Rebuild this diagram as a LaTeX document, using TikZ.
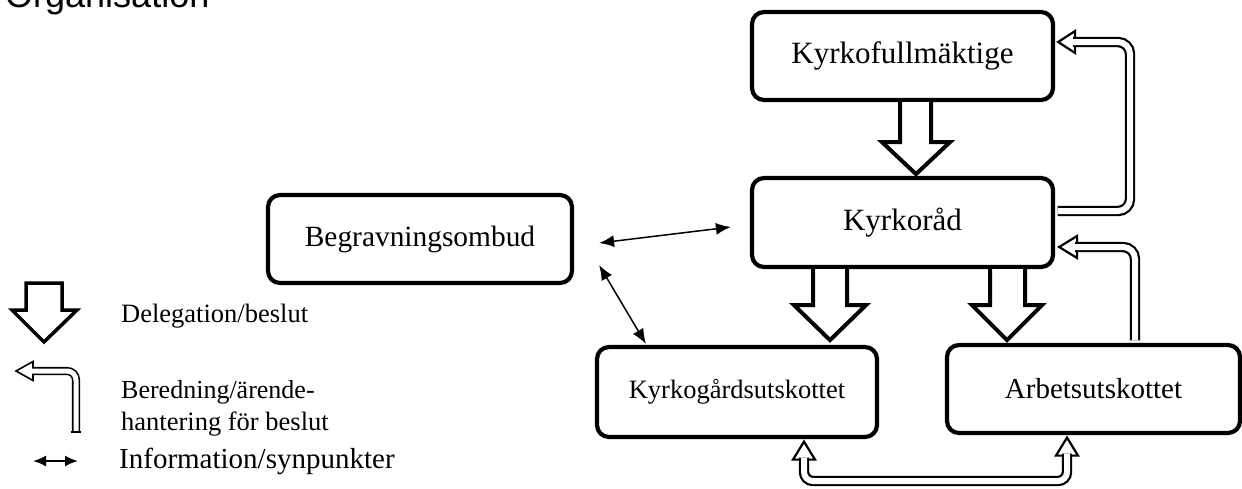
\documentclass[tikz,border=0pt]{standalone}
\usepackage{fontspec}
\setmainfont{Liberation Serif}
\newfontfamily\titlefont{Liberation Sans}
\usetikzlibrary{calc,arrows.meta}
\begin{document}
\begin{tikzpicture}[x=1pt,y=-1pt,
  box/.style={draw, line width=4.2pt, rounded corners=12pt, fill=white, inner sep=0pt, anchor=center},
  blk/.style={draw, line width=4pt, fill=white, line join=miter},
  lblk/.style={draw, line width=3.5pt, fill=white, line join=miter},
  dbl/.style={draw, line width=2.2pt, double=white, double distance=6pt, rounded corners=12pt},
  ldbl/.style={draw, line width=1.6pt, double=white, double distance=5pt, rounded corners=9pt},
  hd/.style={draw, line width=2.2pt, fill=white, line join=miter},
  lhd/.style={draw, line width=1.6pt, fill=white, line join=miter},
  info/.style={line width=1.5pt, {Latex[length=15pt,width=12pt]}-{Latex[length=15pt,width=12pt]}},
  legtext/.style={anchor=west, inner sep=0pt, align=left}
]
\useasboundingbox (0,0) rectangle (1242,488);

% title (cut off at the top as in the reference)
\node[anchor=base west, inner sep=0pt, font=\titlefont\fontsize{36}{40}\selectfont] (title) at (5,7) {Organisation};

% boxes
\node[box, minimum width=301pt, minimum height=88pt, font=\fontsize{31}{36}\selectfont] (kf) at (902.5,56) {Kyrkofullmäktige};
\node[box, minimum width=301pt, minimum height=89pt, font=\fontsize{31}{36}\selectfont] (kr) at (902.5,222.5) {Kyrkoråd};
\node[box, minimum width=304pt, minimum height=88pt, font=\fontsize{29.4}{34}\selectfont] (bo) at (420,239) {Begravningsombud};
\node[box, minimum width=280pt, minimum height=90pt, font=\fontsize{26.5}{31}\selectfont] (kg) at (737,392) {Kyrkogårdsutskottet};
\node[box, minimum width=293pt, minimum height=88pt, font=\fontsize{29}{34}\selectfont] (au) at (1093.5,389) {Arbetsutskottet};

% delegation arrows
\draw[blk] ($(kf.south)+(-2.5,0)$) -- ++(0,40) -- ++(-18,0) -- ++(34,32) -- ++(34,-32) -- ++(-19,0) -- ++(0,-40);
\draw[blk] ($(kr.south)+(-89.5,0)$) -- ++(0,36) -- ++(-19,0) -- ++(36,35) -- ++(36,-35) -- ++(-19,0) -- ++(0,-36);
\draw[blk] ($(kr.south)+(87.5,0)$) -- ++(0,36) -- ++(-18,0) -- ++(35,35) -- ++(35,-35) -- ++(-17,0) -- ++(0,-36);

% preparation arrows: Kyrkoråd -> Kyrkofullmäktige
\draw[hd] ($(kf.east)+(3,-14)$) -- ++(17,-11) -- ++(0,22) -- cycle;
\draw[dbl] ($(kr.east)+(2.5,-11.5)$) -- (1130,211) -- (1130,42) -- ($(kf.east)+(18,-14)$);

% Arbetsutskottet -> Kyrkoråd
\draw[hd] ($(kr.east)+(4,24.5)$) -- ++(18,-11) -- ++(0,22) -- cycle;
\draw[dbl] ($(au.north)+(41.5,-2.5)$) -- (1135,247) -- ($(kr.east)+(20,24.5)$);

% Kyrkogårdsutskottet <-> Arbetsutskottet
\draw[hd] ($(kg.south)+(67,2.5)$) -- ++(11,18) -- ++(-22,0) -- cycle;
\draw[hd] ($(au.south)+(-26.5,2.5)$) -- ++(11,18) -- ++(-22,0) -- cycle;
\draw[dbl, rounded corners=9pt] ($(kg.south)+(67,18.5)$) -- (804,481) -- (1067,481) -- ($(au.south)+(-26.5,18.5)$);

% information arrows
\coordinate (i1) at ($(bo.east)+(25,4)$);
\coordinate (i2) at ($(bo.east)+(25,26)$);
\coordinate (i1e) at ($(kr.west)+(-19,4.5)$);
\coordinate (i2e) at ($(kg.north west)+(51,-1)$);
\draw[info] (i1) -- (i1e);
\draw[info] (i2) -- (i2e);

% legend
\draw[lblk] (26,283) -- (26,310) -- (12,310) -- (44,342) -- (77,310) -- (62,310) -- (62,283) -- cycle;
\node[legtext, font=\fontsize{26.5}{30}\selectfont] (l1) at (121,316) {Delegation/beslut};

\coordinate (lh) at (16,371);
\draw[lhd] (lh) -- ++(17,-9.5) -- ++(0,19) -- cycle;
\coordinate (lb) at (76,432);
\draw[ldbl] ($(lh)+(16,0)$) -- (76,371) -- (lb);
\draw[line width=1.6pt] ($(lb)+(-4.9,0)$) -- ($(lb)+(4.9,0)$);
\node[legtext, font=\fontsize{26}{31}\selectfont] (l2a) at (121,392) {Beredning/ärende-};
\node[legtext, font=\fontsize{26.5}{31}\selectfont] (l2b) at (121,424) {hantering för beslut};

\coordinate (la) at (33,461);
\coordinate (lc) at (78,461);
\draw[line width=2pt, {Latex[length=13pt,width=11pt]}-{Latex[length=13pt,width=11pt]}] (la) -- (lc);
\node[legtext, font=\fontsize{29}{34}\selectfont] (l3) at (119,461) {Information/synpunkter};
\end{tikzpicture}
\end{document}
